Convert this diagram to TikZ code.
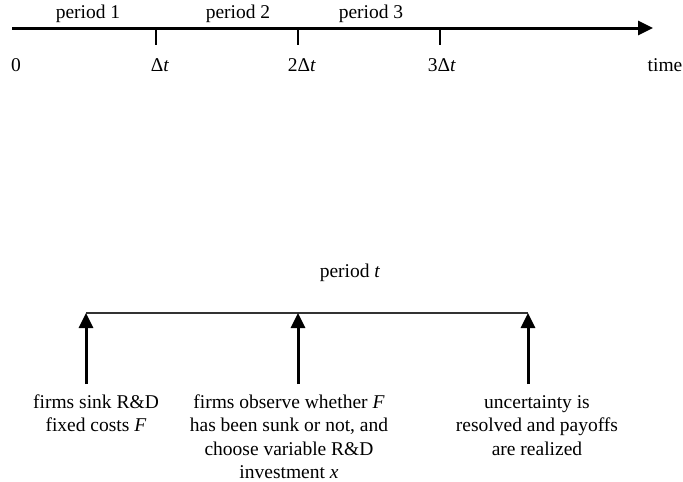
\documentclass[tikz,border=0pt]{standalone}
\usepackage{fontspec}
\setmainfont{Liberation Serif}
\usetikzlibrary{arrows.meta}
\begin{document}
\begin{tikzpicture}[x=1pt,y=-1pt,
  lbl/.style={inner sep=0pt,anchor=base,font=\fontsize{19.5}{23.5}\selectfont},
  desc/.style={lbl,align=center},
  axisline/.style={line width=3pt,-{Triangle[length=15pt,width=14pt]}},
  tickline/.style={line width=1.2pt},
  upline/.style={line width=3pt,-{Triangle[length=15pt,width=14pt]}},
  periodline/.style={line width=1.5pt,black!80}]
\useasboundingbox (0,0) rectangle (683,482);
% top time axis
\coordinate (a0) at (12,28);
\coordinate (a1) at (653,28);
\draw[axisline] (a0) -- (a1);
\foreach \i/\xx in {1/156,2/298,3/440}{
  \coordinate (t\i) at (\xx,28);
  \coordinate (b\i) at (\xx,45);
  \draw[tickline] (t\i) -- (b\i);
}
\node[lbl] (p1) at (88,18) {period 1};
\node[lbl] (p2) at (238,18) {period 2};
\node[lbl] (p3) at (371,18) {period 3};
\node[lbl] (l0) at (16,71) {0};
\node[lbl] (l1) at (160,71) {Δ\textit{t}};
\node[lbl] (l2) at (302,71) {2Δ\textit{t}};
\node[lbl] (l3) at (442,71) {3Δ\textit{t}};
\node[lbl] (lt) at (665,71) {time};
% period t
\node[lbl] (pt) at (350,277) {period \textit{t}};
\coordinate (e1) at (86,313);
\coordinate (e2) at (298,313);
\coordinate (e3) at (528,313);
\draw[periodline] (e1) -- (e3);
\coordinate (s1) at (86,384);
\coordinate (s2) at (298,384);
\coordinate (s3) at (528,384);
\draw[upline] (s1) -- (e1);
\draw[upline] (s2) -- (e2);
\draw[upline] (s3) -- (e3);
\node[desc] (d1) at (96,431.5) {firms sink R\&D\\fixed costs \textit{F}};
\node[desc] (d2) at (289,478.5) {firms observe whether \textit{F}\\has been sunk or not, and\\choose variable R\&D\\investment \textit{x}};
\node[desc] (d3) at (537,455) {uncertainty is\\resolved and payoffs\\are realized};
\end{tikzpicture}
\end{document}
